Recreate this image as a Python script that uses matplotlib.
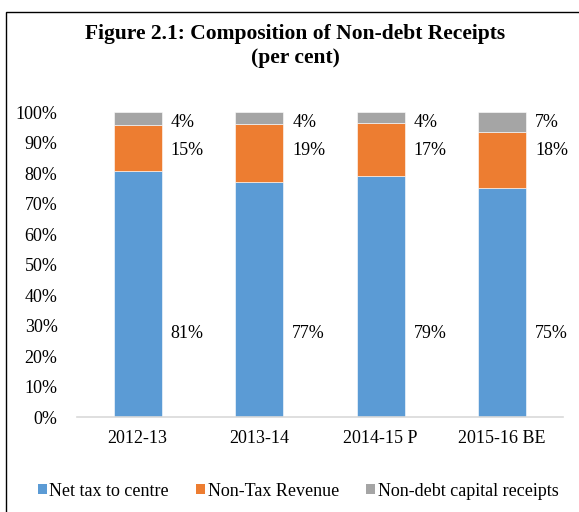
import matplotlib
matplotlib.use("Agg")
import matplotlib.pyplot as plt
from matplotlib.patches import Patch, Rectangle
import numpy as np

years = ["2012-13", "2013-14", "2014-15 P", "2015-16 BE"]
net_tax = [80.6, 77.1, 78.9, 75.2]
non_tax = [15.0, 19.0, 17.4, 18.1]
capital = [4.4, 3.9, 3.7, 6.7]
series_names = ["Net tax to centre", "Non-Tax Revenue", "Non-debt capital receipts"]
colors = ["#5B9BD5", "#ED7D31", "#A5A5A5"]

plt.rcParams['font.family'] = ['Liberation Serif', 'DejaVu Serif']

fig = plt.figure(figsize=(5.79, 5.12), dpi=100)
ax = fig.add_axes([0.133, 0.1855, 0.839, 0.5957])

# outer frame (cut off on right and bottom like the source)
fig.patches.append(Rectangle((0.0104, -0.1), 1.2, 0.9766 + 0.1, transform=fig.transFigure,
                             fill=False, edgecolor="black", linewidth=1.0))

x = np.arange(len(years))
bottom = np.zeros(len(years))
# fixed rows where the percentage labels sit
label_rows = [27.5, 87.5, 96.6]
width = 0.395
for vals, col, row in zip([net_tax, non_tax, capital], colors, label_rows):
    ax.bar(x, vals, width, bottom=bottom, color=col, edgecolor="white", linewidth=0.4)
    for i, v in enumerate(vals):
        ax.text(x[i] + width / 2 + 0.075, row, f"{int(round(v))}%", fontsize=13,
                ha="left", va="center")
    bottom += np.array(vals)

ax.set_xlim(-0.5, 3.5)
ax.set_ylim(0, 100)
ax.set_yticks(np.arange(0, 101, 10))
ax.set_yticklabels([f"{t}%" for t in range(0, 101, 10)])
ax.set_xticks(x)
ax.set_xticklabels(years)
ax.tick_params(axis="both", length=0, labelsize=13)
ax.tick_params(axis="y", pad=14)
ax.tick_params(axis="x", pad=9)
for s in ["top", "right", "left"]:
    ax.spines[s].set_visible(False)
ax.spines["bottom"].set_color("#D9D9D9")
ax.spines["bottom"].set_linewidth(1.2)

fig.text(0.51, 0.934, "Figure 2.1: Composition of Non-debt Receipts",
         fontsize=15.5, fontweight="bold", ha="center", va="center")
fig.text(0.51, 0.886, "(per cent)", fontsize=15.5, fontweight="bold", ha="center", va="center")

handles = [Patch(facecolor=c) for c in colors]
fig.legend(handles, series_names, loc="center", bbox_to_anchor=(0.515, 0.041), ncol=3,
           frameon=False, fontsize=13, handlelength=0.5, handleheight=0.5,
           handletextpad=0.15, columnspacing=1.5)

fig.savefig("out.png", dpi=100)
